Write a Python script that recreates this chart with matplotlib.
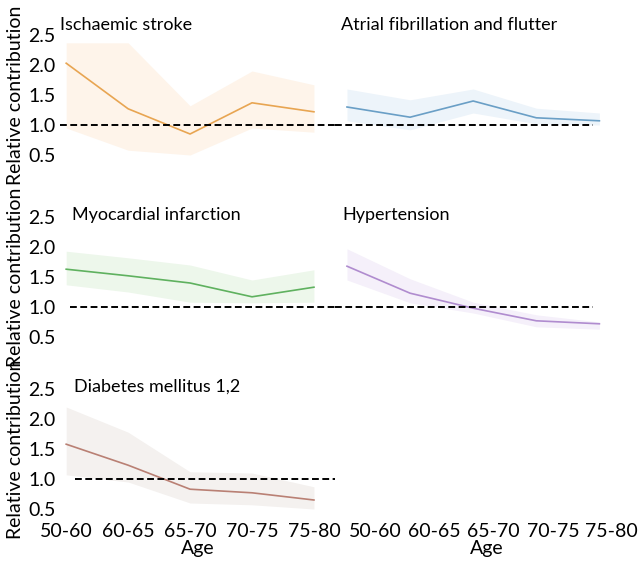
import numpy as np
import matplotlib
matplotlib.use("Agg")
import matplotlib.pyplot as plt

plt.rcParams['font.family'] = ['Lato', 'DejaVu Sans']

ages = ["50-60", "60-65", "65-70", "70-75", "75-80"]

# Ischaemic stroke
stroke_mean = [2.03, 1.27, 0.85, 1.37, 1.22]
stroke_low = [0.95, 0.58, 0.50, 0.95, 0.88]
stroke_high = [2.37, 2.37, 1.32, 1.90, 1.67]

# Atrial fibrillation and flutter
afib_mean = [1.30, 1.13, 1.40, 1.12, 1.07]
afib_low = [1.07, 0.92, 1.20, 1.02, 1.00]
afib_high = [1.60, 1.42, 1.60, 1.28, 1.20]

# Myocardial infarction
mi_mean = [1.63, 1.52, 1.40, 1.17, 1.33]
mi_low = [1.37, 1.25, 1.08, 1.07, 1.08]
mi_high = [1.93, 1.82, 1.70, 1.45, 1.62]

# Hypertension
hyp_mean = [1.68, 1.23, 0.98, 0.77, 0.72]
hyp_low = [1.45, 1.07, 0.90, 0.67, 0.63]
hyp_high = [1.97, 1.47, 1.08, 0.87, 0.75]

# Diabetes mellitus 1,2
dm_mean = [1.58, 1.23, 0.83, 0.77, 0.65]
dm_low = [1.07, 0.95, 0.60, 0.57, 0.50]
dm_high = [2.20, 1.78, 1.12, 1.10, 0.87]

panels = [
    ("Ischaemic stroke", stroke_mean, stroke_low, stroke_high, "#e8a552", "#fef4ea"),
    ("Atrial fibrillation and flutter", afib_mean, afib_low, afib_high, "#6a9fc6", "#edf4fa"),
    ("Myocardial infarction", mi_mean, mi_low, mi_high, "#5fb15f", "#edf7eb"),
    ("Hypertension", hyp_mean, hyp_low, hyp_high, "#b08ccf", "#f5f0fa"),
    ("Diabetes mellitus 1,2", dm_mean, dm_low, dm_high, "#b98074", "#f4f1ef"),
]

W, H = 639, 562
fig = plt.figure(figsize=(W / 100, H / 100), dpi=100)

# pixel boxes (left, right) per column, (top, bottom) per row
cols = [(60, 335), (335, 612)]
rows = [(29, 161), (211, 343), (383, 515)]
xlims = [(-0.1, 4.34), (-0.19, 4.2)]
title_dx = [[0.0, 0.02], [0.045, 0.025], [0.05, 0.0]]

x = np.arange(len(ages))


def make_ax(r, c, box=None, xlim=None):
    l, rr = box if box else cols[c]
    t, b = rows[r]
    ax = fig.add_axes([l / W, 1 - b / H, (rr - l) / W, (b - t) / H])
    ax.set_xlim(*(xlim if xlim else xlims[c]))
    ax.set_ylim(0.4, 2.6)
    for s in ax.spines.values():
        s.set_visible(False)
    ax.tick_params(length=0, labelsize=14, pad=3)
    ax.tick_params(axis="x", pad=6)
    ax.set_yticks([0.5, 1.0, 1.5, 2.0, 2.5])
    ax.set_xticks(x)
    ax.set_xticklabels([])
    if c == 0:
        ax.set_ylabel("Relative contribution", fontsize=14, labelpad=3)
    else:
        ax.set_yticklabels([])
    return ax


dash = dict(color="black", linestyle="--", linewidth=1.4, dashes=(3.5, 1.8), clip_on=False)

for i, (name, mean, low, high, col, fill) in enumerate(panels):
    r, c = divmod(i, 2)
    ax = make_ax(r, c)
    ax.fill_between(x, low, high, color=fill, linewidth=0)
    ax.plot(x, mean, color=col, linewidth=1.2)
    if c == 0 and r == 0:
        ax.axhline(1.0, xmin=0.0, xmax=1.0, **dash)
    elif c == 0 and r == 1:
        ax.axhline(1.0, xmin=0.035, xmax=1.0, **dash)
    elif c == 1:
        ax.axhline(1.0, xmin=0.0, xmax=0.93, **dash)
    else:
        ax.axhline(1.0, xmin=0.055, xmax=1.03, **dash)
    ax.text(title_dx[r][c], 0.97, name, transform=ax.transAxes, fontsize=13,
            ha="left", va="bottom" if r == 0 else "center")
    if r == 2:
        ax.set_xticklabels(ages)
        ax.set_xlabel("Age", fontsize=14, labelpad=0)

# empty bottom-right panel only carries the age axis
ax = make_ax(2, 1, box=(335, 639), xlim=(-0.69, 4.46))
ax.set_yticks([])
ax.set_xticklabels(ages)
ax.set_xlabel("Age", fontsize=14, labelpad=0)

fig.savefig("out.png", dpi=100)
